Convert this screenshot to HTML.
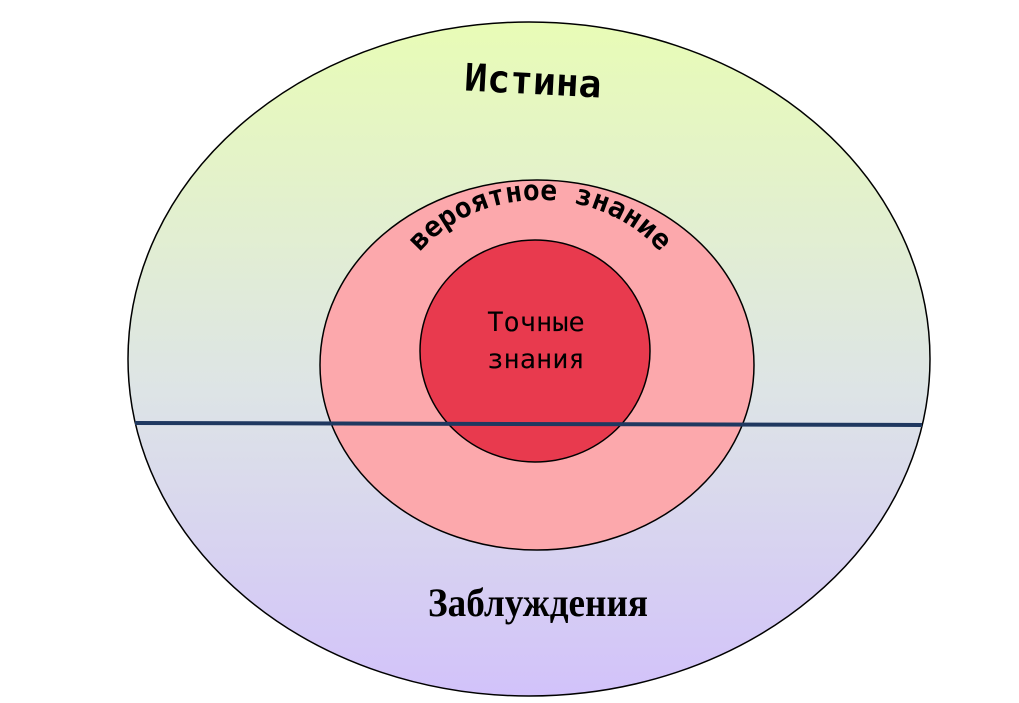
<!DOCTYPE html>
<html><head><meta charset="utf-8"><style>html,body{margin:0;padding:0;background:#fff}</style></head>
<body>
<svg width="1019" height="698" viewBox="0 0 1019 698" xmlns="http://www.w3.org/2000/svg">
<defs>
<linearGradient id="g" x1="0" y1="0" x2="0" y2="1">
<stop offset="0" stop-color="#e8fcb6"/>
<stop offset="0.55" stop-color="#dde4e6"/>
<stop offset="1" stop-color="#d2c2fa"/>
</linearGradient>
<path id="arc" d="M 398 288 A 150 130 0 0 1 682 288"/>
</defs>
<ellipse cx="529" cy="359" rx="401" ry="337" fill="url(#g)" stroke="#000" stroke-width="1.5"/>
<ellipse cx="537" cy="365" rx="217" ry="185" fill="#fca8ac" stroke="#000" stroke-width="1.5"/>
<ellipse cx="535" cy="351" rx="115" ry="111" fill="#e83a4e" stroke="#000" stroke-width="1.5"/>
<line x1="135" y1="423" x2="922" y2="425" stroke="#1f3860" stroke-width="4"/>
<text x="533" y="94" font-family="DejaVu Sans Mono, monospace" font-weight="bold" font-size="38" text-anchor="middle" transform="rotate(3 533 82)">Истина</text>
<text font-family="DejaVu Sans Mono, monospace" font-size="28" font-weight="bold"><textPath href="#arc" startOffset="50%" text-anchor="middle">вероятное знание</textPath></text>
<text x="536" y="331" font-family="DejaVu Sans Mono, monospace" font-size="27" text-anchor="middle">Точные</text>
<text x="536" y="368" font-family="DejaVu Sans Mono, monospace" font-size="27" text-anchor="middle">знания</text>
<text x="538" y="616" font-family="Liberation Serif, serif" font-weight="bold" font-size="40" text-anchor="middle" textLength="220" lengthAdjust="spacingAndGlyphs">Заблуждения</text>
</svg>
</body></html>
